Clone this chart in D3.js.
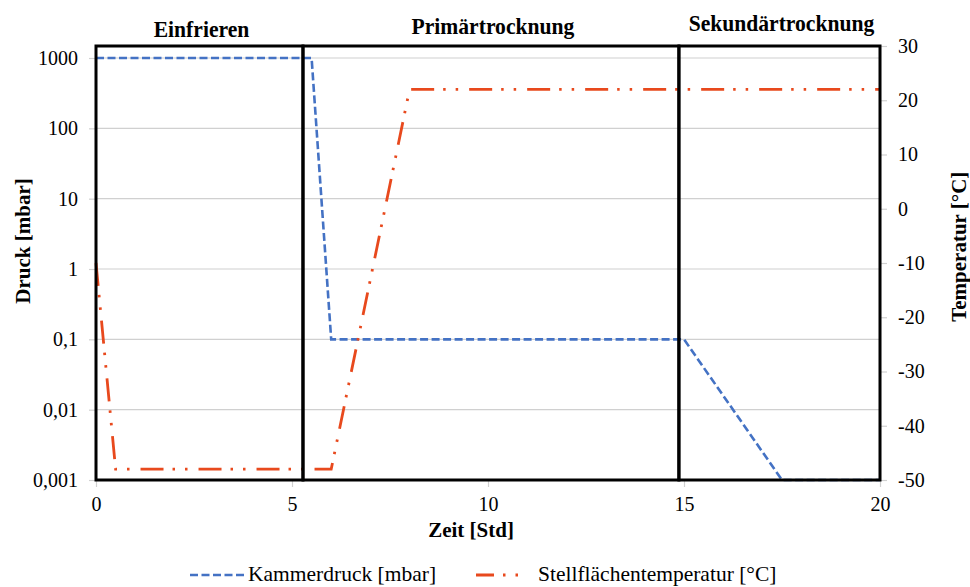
<!DOCTYPE html>
<html>
<head>
<meta charset="utf-8">
<script src="https://cdn.jsdelivr.net/npm/d3@7"></script>
</head>
<body style="margin:0">
<svg id="lyo" width="970" height="587" style="display:block"></svg>
<script>
// Kammerdruck (mbar) over Zeit (Std)
const pressureTime = [0, 5.5, 6, 15, 17.5, 20];
const pressureValues = [1000, 1000, 0.1, 0.1, 0.001, 0.001];

// Stellflächentemperatur (°C) over Zeit (Std)
const tempTime = [0, 0.5, 6, 8, 20];
const tempValues = [-10, -48, -48, 22, 22];

// Process phases (start/end in Std)
const phaseNames = ["Einfrieren", "Primärtrocknung", "Sekundärtrocknung"];
const phaseStart = [0, 5.28, 14.87];
const phaseEnd = [5.28, 14.87, 20];

// Axis ticks
const pressureTicks = [0.001, 0.01, 0.1, 1, 10, 100, 1000];
const pressureTickLabels = ["0,001", "0,01", "0,1", "1", "10", "100", "1000"];
const tempTicks = [-50, -40, -30, -20, -10, 0, 10, 20, 30];
const timeTicks = [0, 5, 10, 15, 20];

const FONT = "'Liberation Serif'";
const svg = d3.select("#lyo");
const blue = "#4472C4";
const orange = "#E8491D";
const gridColor = "#d0d0d0";

// serif text helper
const serif = sel => sel.attr("font-family", FONT).style("font-family", FONT, "important");

const x = d3.scaleLinear().domain([0, 20]).range([96, 880]);
const yP = d3.scaleLog().domain([0.001, 1000]).range([480, 58]);
const yT = d3.scaleLinear().domain([-50, 30]).range([480, 46]);

// horizontal gridlines at pressure decades
svg.append("g").selectAll("line").data(pressureTicks).join("line")
  .attr("x1", x(0)).attr("x2", x(20))
  .attr("y1", d => yP(d)).attr("y2", d => yP(d))
  .attr("stroke", gridColor).attr("stroke-width", 1.2);

// left axis (pressure, log)
const axL = svg.append("g").attr("transform", `translate(${x(0)},0)`)
  .call(d3.axisLeft(yP).tickValues(pressureTicks)
    .tickFormat(d => pressureTickLabels[pressureTicks.indexOf(d)])
    .tickSize(7).tickSizeOuter(0).tickPadding(11));
// right axis (temperature), plain hyphen for negatives
const axR = svg.append("g").attr("transform", `translate(${x(20)},0)`)
  .call(d3.axisRight(yT).tickValues(tempTicks).tickFormat(d => String(d))
    .tickSize(7).tickSizeOuter(0).tickPadding(11));
// bottom axis (time)
const axB = svg.append("g").attr("transform", `translate(0,${yT(-50)})`)
  .call(d3.axisBottom(x).tickValues(timeTicks).tickFormat(d => String(d))
    .tickSize(7).tickSizeOuter(0).tickPadding(9.5));

[axL, axR, axB].forEach(ax => {
  ax.attr("font-size", 20).call(serif);
  ax.select(".domain").attr("stroke", gridColor).attr("stroke-width", 1.2);
  ax.selectAll(".tick line").attr("stroke", gridColor).attr("stroke-width", 1.2);
  ax.selectAll(".tick text").attr("fill", "#000").call(serif);
});

// series lines
const pressureData = pressureTime.map((t, i) => [t, pressureValues[i]]);
const tempData = tempTime.map((t, i) => [t, tempValues[i]]);

svg.append("path").datum(pressureData)
  .attr("d", d3.line().x(d => x(d[0])).y(d => yP(d[1])))
  .attr("fill", "none").attr("stroke", blue).attr("stroke-width", 2.6)
  .attr("stroke-dasharray", "8 3.5");

svg.append("path").datum(tempData)
  .attr("d", d3.line().x(d => x(d[0])).y(d => yT(d[1])))
  .attr("fill", "none").attr("stroke", orange).attr("stroke-width", 2.8)
  .attr("stroke-dasharray", "23 9 2.5 10 2.5 11");

// phase boxes
const phases = phaseNames.map((n, i) => ({ name: n, s: phaseStart[i], e: phaseEnd[i] }));
svg.append("g").selectAll("rect").data(phases).join("rect")
  .attr("x", d => x(d.s)).attr("y", yT(30))
  .attr("width", d => x(d.e) - x(d.s)).attr("height", yT(-50) - yT(30))
  .attr("fill", "none").attr("stroke", "#000").attr("stroke-width", 3);

// phase titles (slightly condensed bold)
const titleY = [37, 34, 31];
svg.append("g").selectAll("text").data(phases).join("text")
  .attr("transform", (d, i) => `translate(${(x(d.s) + x(d.e)) / 2 + 2},${titleY[i]}) scale(0.9,1)`)
  .attr("text-anchor", "middle").call(serif)
  .attr("font-weight", "bold").attr("font-size", 24)
  .text(d => d.name);

// axis titles
svg.append("text").attr("x", (x(0) + x(20)) / 2 - 17).attr("y", 537)
  .attr("text-anchor", "middle").call(serif)
  .attr("font-weight", "bold").attr("font-size", 21)
  .text("Zeit [Std]");
svg.append("text").attr("transform", `translate(30,${yP(1) - 28}) rotate(-90)`)
  .attr("text-anchor", "middle").call(serif)
  .attr("font-weight", "bold").attr("font-size", 21)
  .text("Druck [mbar]");
svg.append("text").attr("transform", `translate(966,${yT(-7)}) rotate(-90)`)
  .attr("text-anchor", "middle").call(serif)
  .attr("font-weight", "bold").attr("font-size", 21)
  .text("Temperatur [°C]");

// legend
const legend = svg.append("g");
legend.append("line").attr("x1", 190).attr("x2", 245).attr("y1", 575).attr("y2", 575)
  .attr("stroke", blue).attr("stroke-width", 2.6).attr("stroke-dasharray", "8 3.5");
legend.append("text").attr("x", 248).attr("y", 581).call(serif).attr("font-size", 21.5)
  .text("Kammerdruck [mbar]");
legend.append("line").attr("x1", 476).attr("x2", 521).attr("y1", 575).attr("y2", 575)
  .attr("stroke", orange).attr("stroke-width", 2.8).attr("stroke-dasharray", "18 9 2.5 10 2.5 11");
legend.append("text").attr("x", 538).attr("y", 581).call(serif).attr("font-size", 21.5)
  .text("Stellflächentemperatur [°C]");
</script>
</body>
</html>
